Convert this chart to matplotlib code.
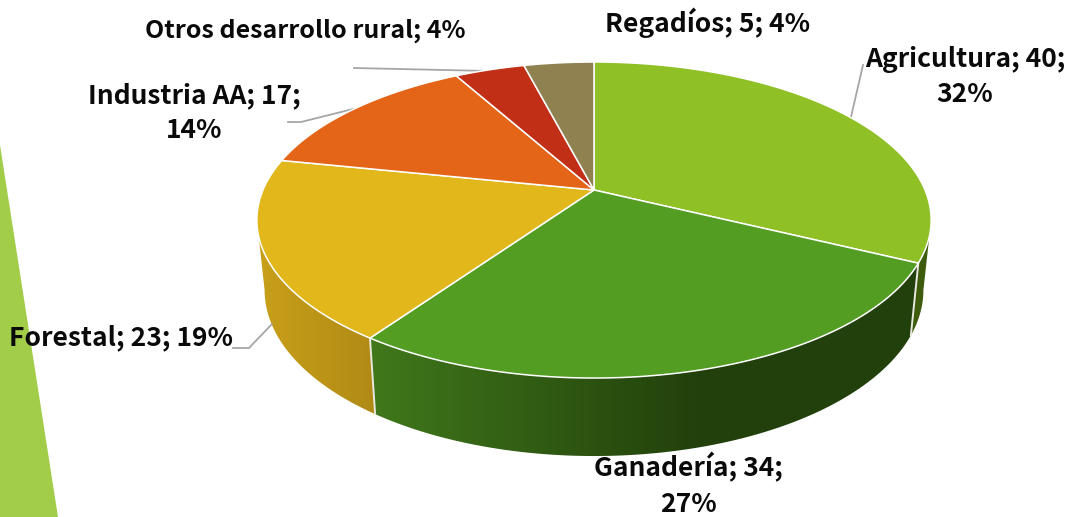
import numpy as np
import matplotlib
matplotlib.use('Agg')
import matplotlib.pyplot as plt
from matplotlib.colors import LinearSegmentedColormap
from matplotlib.patches import Polygon

# slices, clockwise from the top
categories = ['Agricultura', 'Ganadería', 'Forestal', 'Industria AA', 'Otros desarrollo rural', 'Regadíos']
values = [40, 34, 23, 17, 5, 5]
labels = ['Agricultura; 40;\n32%', 'Ganadería; 34;\n27%', 'Forestal; 23; 19%',
          'Industria AA; 17;\n14%', 'Otros desarrollo rural; 4%', 'Regadíos; 5; 4%']
colors = ['#8fc026', '#529d22', '#e2b71b', '#e46518', '#c02f16', '#8f8250']
wall_left = ['#3e5c0c', '#40781b', '#c9a01a', '#e46518', '#c02f16', '#8f8250']
wall_right = ['#3e5c0c', '#22400b', '#b08a15', '#e46518', '#c02f16', '#8f8250']

label_pos = [(965, 77), (688, 485), (121, 338), (194, 113), (305, 31), (708, 23)]
label_size = [19, 19, 19, 19, 18, 19]
leaders = [[(863, 65), (851, 117)], None, [(233, 348), (249, 348), (272, 324)],
           [(288, 122), (301, 122), (353, 109)], [(354, 68), (489, 71)], None]

# perspective of the disc, fitted on the picture
cx, cy = 594, 190
bx, ay, p = 331, 152.3, 0.19


def top(theta):
    u, v = np.sin(theta), np.cos(theta)
    d = 1 + p * v
    return cx + bx * u / d, cy - ay * v / d


def bottom(theta):
    x, y = top(theta)
    return cx + (x - cx) * 0.977, y + 78 + 0.05 * (y - 378)


plt.rcParams['font.family'] = ['Noto Sans CJK SC', 'DejaVu Sans']
fig = plt.figure(figsize=(10.71, 5.17), dpi=100)
ax = fig.add_axes([0, 0, 1, 1])

# green shape on the left of the slide
ax.fill([0, 58, 0], [145, 517, 517], color='#a2cd48', lw=0, zorder=0)

edges = np.radians(np.concatenate([[0], np.cumsum(values)]) / np.sum(values) * 360)

# side wall: a horizontal gradient clipped to each piece
for i in range(len(values)):
    a0, a1 = max(edges[i], np.radians(101)), min(edges[i + 1], np.radians(259))
    if a1 <= a0:
        continue
    grid = np.linspace(a0, a1, 200)
    xt, yt = top(grid)
    xb, yb = bottom(grid)
    xs, ys = np.r_[xt, xb[::-1]], np.r_[yt, yb[::-1]]
    x_lo, x_hi = xs.min(), xs.max()
    # the dark end of Ganadería is reached before the right side
    stop = (700 - x_lo) / (x_hi - x_lo) if i == 1 else 1.0
    cmap = LinearSegmentedColormap.from_list('wall', [(0, wall_left[i]), (stop, wall_right[i]), (1, wall_right[i])])
    im = ax.imshow(np.linspace(0, 1, 256)[None, :], cmap=cmap, aspect='auto', zorder=1,
                   extent=(x_lo, x_hi, ys.max(), ys.min()))
    poly = Polygon(np.c_[xs, ys], closed=True, transform=ax.transData, fc='none', ec='none')
    ax.add_patch(poly)
    im.set_clip_path(poly)

# white seams between wall pieces
for e in edges[1:3]:
    xa, ya = top(e)
    xd, yd = bottom(e)
    ax.plot([xa, xd], [ya, yd], color='#e8e8e0', lw=1.4, zorder=2)

# top of the pie
for i in range(len(values)):
    grid = np.linspace(edges[i], edges[i + 1], 200)
    xs, ys = top(grid)
    ax.fill(np.r_[cx, xs], np.r_[cy, ys], facecolor=colors[i], edgecolor='white', lw=1.1,
            joinstyle='round', zorder=3)

for line in leaders:
    if line is not None:
        ax.plot([q[0] for q in line], [q[1] for q in line], color='#a6a6a6', lw=1.3, zorder=2.5)

for text, (x, y), size in zip(labels, label_pos, label_size):
    ax.text(x, y, text, ha='center', va='center', fontsize=size, fontweight='bold',
            color='#0a0a0a', linespacing=1.4, zorder=5)

ax.set_xlim(0, 1071)
ax.set_ylim(517, 0)
ax.axis('off')

fig.savefig('out.png', dpi=100)
